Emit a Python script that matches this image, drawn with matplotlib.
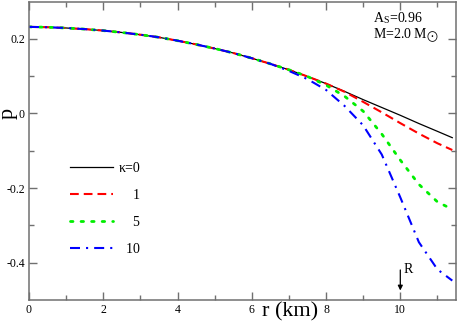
import matplotlib
matplotlib.use('Agg')
import matplotlib.pyplot as plt
import numpy as np

plt.rcParams['font.family'] = ['Liberation Serif', 'DejaVu Serif']
plt.rcParams['mathtext.fontset'] = 'stix'

# p(r), one curve per kappa
r_k0 = [0, 0.5, 1, 1.5, 2, 2.5, 3, 3.5, 4, 4.5, 5, 5.5, 6, 6.5, 7, 7.5, 8,
        8.5, 9, 9.5, 10, 10.5, 11, 11.4]
p_k0 = [0.232, 0.231, 0.229, 0.226, 0.222, 0.217, 0.211, 0.204, 0.195, 0.185,
        0.174, 0.162, 0.148, 0.133, 0.117, 0.099, 0.080, 0.059, 0.037, 0.016,
        -0.005, -0.027, -0.048, -0.065]

r_k1 = r_k0
p_k1 = p_k0[:17] + [0.058, 0.031, 0.003, -0.026, -0.054, -0.080, -0.098]

r_k5 = r_k0
p_k5 = p_k0[:16] + [0.076, 0.046, 0.006, -0.055, -0.125, -0.19, -0.237, -0.257]

r_k10 = r_k0
p_k10 = p_k0[:14] + [0.114, 0.092, 0.063, 0.02, -0.032, -0.11, -0.225, -0.345,
                     -0.418, -0.448]

R_star = 10.0

def set_axes(ax):
    ax.set_xlim(0, 11.5)
    ax.set_ylim(-0.5, 0.3)
    ax.set_xticks([0, 2, 4, 6, 8, 10])
    ax.set_xticks(np.arange(1, 12, 2), minor=True)
    ax.set_yticks([-0.4, -0.2, 0, 0.2])
    ax.set_yticklabels(['-0.4', '-0.2', '0', '0.2'])
    ax.set_yticks([-0.3, -0.1, 0.1], minor=True)
    ax.tick_params(which='both', direction='in', top=True, right=True,
                   color='#707070', width=1.0, labelsize=8.5)
    ax.tick_params(which='major', length=6)
    ax.tick_params(which='minor', length=3.5)
    ax.tick_params(axis='x', pad=3)
    ax.tick_params(axis='y', pad=3)
    for s in ax.spines.values():
        s.set_color('#707070')
        s.set_linewidth(1.1)
    ax.set_xlabel('r (km)', fontsize=16, va='top')
    ax.xaxis.set_label_coords(0.611, -0.008)
    ax.set_ylabel('p', fontsize=16)
    ax.yaxis.set_label_coords(-0.027, 0.625)

fig = plt.figure(figsize=(4.58, 3.23), dpi=100)
ax = fig.add_subplot(111)
fig.subplots_adjust(left=29/458, right=456/458, top=1-1.5/323, bottom=1-300/323)
set_axes(ax)

ax.plot(r_k0, p_k0, color='black', lw=0.9, label='κ=0')
ax.plot(r_k1, p_k1, color='#ff0000', lw=1.5, linestyle=(0, (4.2, 2.4)), label='    1')
ax.plot(r_k5, p_k5, color='#00ee00', lw=2.0, linestyle=(0, (0.9, 2.9)),
        dash_capstyle='round', label='    5')
ax.plot(r_k10, p_k10, color='#0000ff', lw=1.5, linestyle=(0, (4.8, 2.9, 1.0, 2.9)),
        label='  10')

ax.legend(loc='upper left', bbox_to_anchor=(0.096, 0.462), frameon=False,
          fontsize=10, borderpad=0, borderaxespad=0, handlelength=3.1,
          handletextpad=0.4, labelspacing=1.0)

ax.annotate('', xy=(R_star, -0.482), xytext=(R_star, -0.412),
            arrowprops=dict(arrowstyle='-|>', color='black', lw=0.9,
                            mutation_scale=7))
ax.text(R_star + 0.08, -0.418, 'R', fontsize=10, va='center')

ax.text(0.806, 0.945, r'A$_\mathregular{S}$=0.96', transform=ax.transAxes,
        fontsize=10, va='center')
ax.text(0.806, 0.885, r'M=2.0 M$_{\bigodot}$', transform=ax.transAxes,
        fontsize=10, va='center')

plt.savefig('out.png', dpi=100)
